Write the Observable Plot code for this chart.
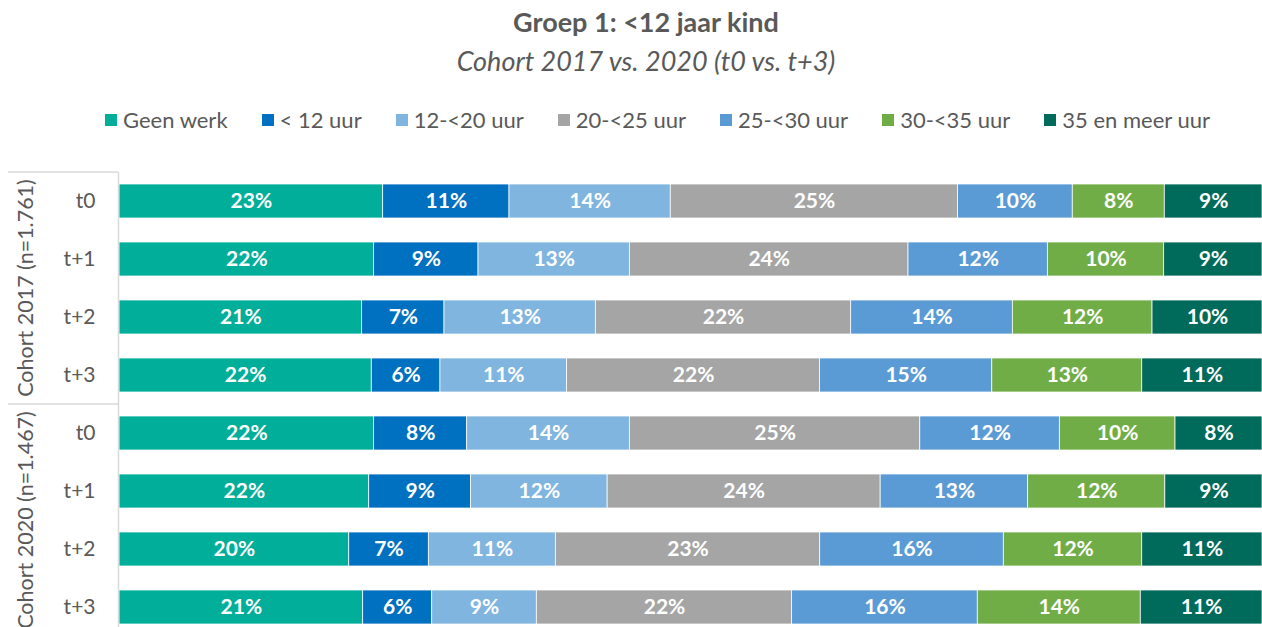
<!DOCTYPE html>
<html>
<head>
<meta charset="utf-8">
<script src="https://cdn.jsdelivr.net/npm/d3@7"></script>
<script src="https://cdn.jsdelivr.net/npm/@observablehq/plot@0.6"></script>
<style>
  body { margin: 0; overflow: hidden; background: #fff; font-family: Lato, "Open Sans", sans-serif; color: #595959; }
  #title { position: absolute; top: 6px; left: 0; width: 1292px; text-align: center; font-weight: bold; font-size: 27px; line-height: 32px; }
  #subtitle { position: absolute; top: 45px; left: 0; width: 1292px; text-align: center; font-style: italic; font-size: 27px; line-height: 32px; }
  #legend { position: absolute; top: 106px; left: 105px; display: flex; font-size: 22px; line-height: 28px; white-space: nowrap; }
  #legend .item { display: flex; align-items: center; margin-right: 34px; }
  #legend .sw { width: 12px; height: 12px; margin-right: 6px; }
  #chart { position: absolute; top: 160px; left: 0; }
</style>
</head>
<body>
<div id="title"></div>
<div id="subtitle"></div>
<div id="legend"></div>
<div id="chart"></div>
<script>
const titleText = "Groep 1: <12 jaar kind";
const subtitleText = "Cohort 2017 vs. 2020 (t0 vs. t+3)";
const cohorts = ["Cohort 2017 (n=1.761)", "Cohort 2020 (n=1.467)"];
const periods = ["t0", "t+1", "t+2", "t+3"];
const categories = ["Geen werk", "< 12 uur", "12-<20 uur", "20-<25 uur", "25-<30 uur", "30-<35 uur", "35 en meer uur"];
const colors = ["#00AE99", "#0070C0", "#7FB5DE", "#A5A5A5", "#5B9BD5", "#70AD47", "#006A5B"];

// values per category, rows: 2017 t0..t+3, 2020 t0..t+3
const geenWerk   = [23.07, 22.28, 21.23, 22.07, 22.28, 21.87, 20.10, 21.32];
const lt12       = [11.05,  9.13,  7.20,  6.01,  8.14,  8.92,  6.96,  6.04];
const u12to20    = [14.11, 13.24, 13.24, 11.08, 14.23, 11.96, 11.11,  9.15];
const u20to25    = [25.14, 24.38, 22.34, 22.13, 25.41, 23.91, 23.13, 22.34];
const u25to30    = [10.03, 12.19, 14.14, 15.07, 12.21, 12.92, 16.06, 16.24];
const u30to35    = [ 8.05, 10.18, 12.22, 13.12, 10.12, 12.01, 12.11, 14.26];
const u35plus    = [ 8.55,  8.60,  9.62, 10.52,  7.61,  8.51, 10.52, 10.65];
const series = [geenWerk, lt12, u12to20, u20to25, u25to30, u30to35, u35plus];

const table = [];
cohorts.forEach((c, i) => periods.forEach((p, j) => categories.forEach((k, s) => {
  table.push({cohort: c, period: p, category: k, value: series[s][i * 4 + j]});
})));

document.getElementById("title").textContent = titleText;
document.getElementById("subtitle").textContent = subtitleText;
const legend = d3.select("#legend");
categories.forEach((k, i) => {
  const it = legend.append("div").attr("class", "item");
  it.append("div").attr("class", "sw").style("background", colors[i]);
  it.append("span").text(k);
});

const stackOpts = {offset: "normalize", x: "value", y: "period", fy: "cohort", z: "category"};
const plot = Plot.plot({
  width: 1262, height: 480,
  marginLeft: 119, marginRight: 0, marginTop: 12, marginBottom: 4,
  style: {fontFamily: "Lato, 'Open Sans', sans-serif", fontSize: "21px", color: "#595959", background: "transparent", overflow: "visible"},
  x: {axis: null, domain: [0, 1]},
  y: {domain: periods, padding: 0, tickSize: 0, tickPadding: 24, label: null},
  fy: {domain: cohorts, padding: 0, axis: null, label: null},
  color: {domain: categories, range: colors},
  marks: [
    Plot.barX(table, Plot.stackX({...stackOpts, fill: "category", insetTop: 12, insetBottom: 12, stroke: "white", strokeWidth: 0.75})),
    Plot.text(table, Plot.stackX({...stackOpts, text: d => Math.round(d.value) + "%", fill: "white", fontWeight: "bold", fontSize: 21})),
    Plot.ruleX([0], {stroke: "#d9d9d9", strokeWidth: 1.5, dx: -1})
  ]
});
document.getElementById("chart").append(plot);

// group labels and separator lines in the left margin, positioned by the fy scale
const fy = plot.scale("fy");
const svg = d3.select(plot);
cohorts.forEach(c => {
  const cy = fy.apply(c) + fy.bandwidth / 2;
  svg.append("text")
    .attr("transform", `translate(25,${cy}) rotate(-90)`)
    .attr("text-anchor", "middle").attr("dominant-baseline", "central")
    .attr("fill", "#595959").attr("font-size", 21.5)
    .text(c);
});
const ys = cohorts.map(c => fy.apply(c)).concat([fy.apply(cohorts[cohorts.length - 1]) + fy.bandwidth]);
ys.forEach(y => {
  svg.append("line").attr("x1", 8).attr("x2", 118).attr("y1", y).attr("y2", y)
    .attr("stroke", "#d9d9d9").attr("stroke-width", 1.5);
});
</script>
</body>
</html>
